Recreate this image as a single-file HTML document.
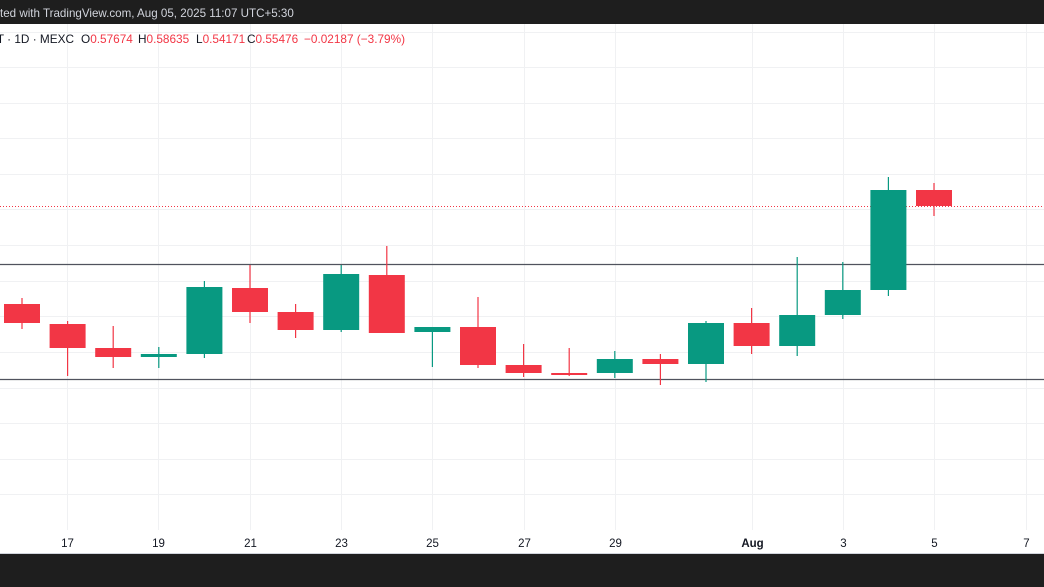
<!DOCTYPE html>
<html><head><meta charset="utf-8"><style>
html,body{margin:0;padding:0;width:1044px;height:587px;overflow:hidden;background:#fff;font-family:"Liberation Sans",sans-serif}
</style></head><body>
<svg width="1044" height="587" xmlns="http://www.w3.org/2000/svg" style="display:block">
<rect x="0" y="0" width="1044" height="587" fill="#fff"/>
<g stroke="#f0f1f3" stroke-width="1">
<line x1="0" y1="32.5" x2="1044" y2="32.5"/><line x1="0" y1="67.5" x2="1044" y2="67.5"/><line x1="0" y1="103.5" x2="1044" y2="103.5"/><line x1="0" y1="138.5" x2="1044" y2="138.5"/><line x1="0" y1="174.5" x2="1044" y2="174.5"/><line x1="0" y1="209.5" x2="1044" y2="209.5"/><line x1="0" y1="245.5" x2="1044" y2="245.5"/><line x1="0" y1="281.5" x2="1044" y2="281.5"/><line x1="0" y1="316.5" x2="1044" y2="316.5"/><line x1="0" y1="352.5" x2="1044" y2="352.5"/><line x1="0" y1="388.5" x2="1044" y2="388.5"/><line x1="0" y1="423.5" x2="1044" y2="423.5"/><line x1="0" y1="459.5" x2="1044" y2="459.5"/><line x1="0" y1="494.5" x2="1044" y2="494.5"/>
<line x1="67.5" y1="24" x2="67.5" y2="530"/><line x1="158.5" y1="24" x2="158.5" y2="530"/><line x1="250.5" y1="24" x2="250.5" y2="530"/><line x1="341.5" y1="24" x2="341.5" y2="530"/><line x1="432.5" y1="24" x2="432.5" y2="530"/><line x1="524.5" y1="24" x2="524.5" y2="530"/><line x1="615.5" y1="24" x2="615.5" y2="530"/><line x1="752.5" y1="24" x2="752.5" y2="530"/><line x1="843.5" y1="24" x2="843.5" y2="530"/><line x1="934.5" y1="24" x2="934.5" y2="530"/><line x1="1026.5" y1="24" x2="1026.5" y2="530"/>
</g>
<line x1="0" y1="206.5" x2="1044" y2="206.5" stroke="#F23645" stroke-width="1" stroke-dasharray="1,2"/>
<line x1="0" y1="264.5" x2="1044" y2="264.5" stroke="#50535e" stroke-width="1.3"/>
<line x1="0" y1="379.5" x2="1044" y2="379.5" stroke="#50535e" stroke-width="1.3"/>
<g stroke-width="1.2">
<line x1="22" y1="298" x2="22" y2="329" stroke="#F23645"/><rect x="4" y="304" width="36" height="19" fill="#F23645"/>
<line x1="67.6" y1="321" x2="67.6" y2="376" stroke="#F23645"/><rect x="49.6" y="324" width="36" height="24" fill="#F23645"/>
<line x1="113.2" y1="326" x2="113.2" y2="368" stroke="#F23645"/><rect x="95.2" y="348" width="36" height="9" fill="#F23645"/>
<line x1="158.8" y1="347" x2="158.8" y2="368" stroke="#089981"/><rect x="140.8" y="354" width="36" height="3" fill="#089981"/>
<line x1="204.4" y1="281" x2="204.4" y2="358" stroke="#089981"/><rect x="186.4" y="287" width="36" height="67" fill="#089981"/>
<line x1="250" y1="265" x2="250" y2="323" stroke="#F23645"/><rect x="232" y="288" width="36" height="24" fill="#F23645"/>
<line x1="295.6" y1="304" x2="295.6" y2="338" stroke="#F23645"/><rect x="277.6" y="312" width="36" height="18" fill="#F23645"/>
<line x1="341.2" y1="265" x2="341.2" y2="332" stroke="#089981"/><rect x="323.2" y="274" width="36" height="56" fill="#089981"/>
<line x1="386.8" y1="246" x2="386.8" y2="333" stroke="#F23645"/><rect x="368.8" y="275" width="36" height="58" fill="#F23645"/>
<line x1="432.4" y1="327" x2="432.4" y2="367" stroke="#089981"/><rect x="414.4" y="327" width="36" height="5" fill="#089981"/>
<line x1="478" y1="297" x2="478" y2="368" stroke="#F23645"/><rect x="460" y="327" width="36" height="38" fill="#F23645"/>
<line x1="523.6" y1="344" x2="523.6" y2="377" stroke="#F23645"/><rect x="505.6" y="365" width="36" height="8" fill="#F23645"/>
<line x1="569.2" y1="348" x2="569.2" y2="376" stroke="#F23645"/><rect x="551.2" y="373" width="36" height="2" fill="#F23645"/>
<line x1="614.8" y1="351" x2="614.8" y2="378" stroke="#089981"/><rect x="596.8" y="359" width="36" height="14" fill="#089981"/>
<line x1="660.4" y1="354" x2="660.4" y2="385" stroke="#F23645"/><rect x="642.4" y="359" width="36" height="5" fill="#F23645"/>
<line x1="706" y1="321" x2="706" y2="382" stroke="#089981"/><rect x="688" y="323" width="36" height="41" fill="#089981"/>
<line x1="751.6" y1="308" x2="751.6" y2="354" stroke="#F23645"/><rect x="733.6" y="323" width="36" height="23" fill="#F23645"/>
<line x1="797.2" y1="257" x2="797.2" y2="356" stroke="#089981"/><rect x="779.2" y="315" width="36" height="31" fill="#089981"/>
<line x1="842.8" y1="262" x2="842.8" y2="319" stroke="#089981"/><rect x="824.8" y="290" width="36" height="25" fill="#089981"/>
<line x1="888.4" y1="177" x2="888.4" y2="296" stroke="#089981"/><rect x="870.4" y="190" width="36" height="100" fill="#089981"/>
<line x1="934" y1="183" x2="934" y2="216" stroke="#F23645"/><rect x="916" y="190" width="36" height="16" fill="#F23645"/>
</g>
<g font-size="11.5" fill="#131722" text-anchor="middle" font-family="Liberation Sans, sans-serif">
<text x="67.5" y="547">17</text><text x="158.5" y="547">19</text><text x="250.5" y="547">21</text><text x="341.5" y="547">23</text><text x="432.5" y="547">25</text><text x="524.5" y="547">27</text><text x="615.5" y="547">29</text><text x="752.5" y="547" font-weight="bold">Aug</text><text x="843.5" y="547">3</text><text x="934.5" y="547">5</text><text x="1026.5" y="547">7</text>
</g>
<rect x="0" y="0" width="1044" height="24" fill="#1e1e1e"/>
<text x="0" y="17" font-size="11.6" fill="#d1d4dc" font-family="Liberation Sans, sans-serif">ted with TradingView.com, Aug 05, 2025 11:07 UTC+5:30</text>
<g font-size="11.8" font-family="Liberation Sans, sans-serif">
<text x="74" y="43" fill="#131722" text-anchor="end">DOT · 1D · MEXC</text>
<text x="81" y="43" fill="#131722">O<tspan fill="#F23645">0.57674</tspan></text>
<text x="138" y="43" fill="#131722">H<tspan fill="#F23645">0.58635</tspan></text>
<text x="196" y="43" fill="#131722">L<tspan fill="#F23645">0.54171</tspan></text>
<text x="247" y="43" fill="#131722">C<tspan fill="#F23645">0.55476</tspan></text>
<text x="304" y="43" fill="#F23645">−0.02187 (−3.79%)</text>
</g>
<rect x="0" y="554" width="1044" height="33" fill="#1e1e1e"/>
<line x1="0" y1="553.5" x2="1044" y2="553.5" stroke="#d1d4dc"/>
</svg>
</body></html>
